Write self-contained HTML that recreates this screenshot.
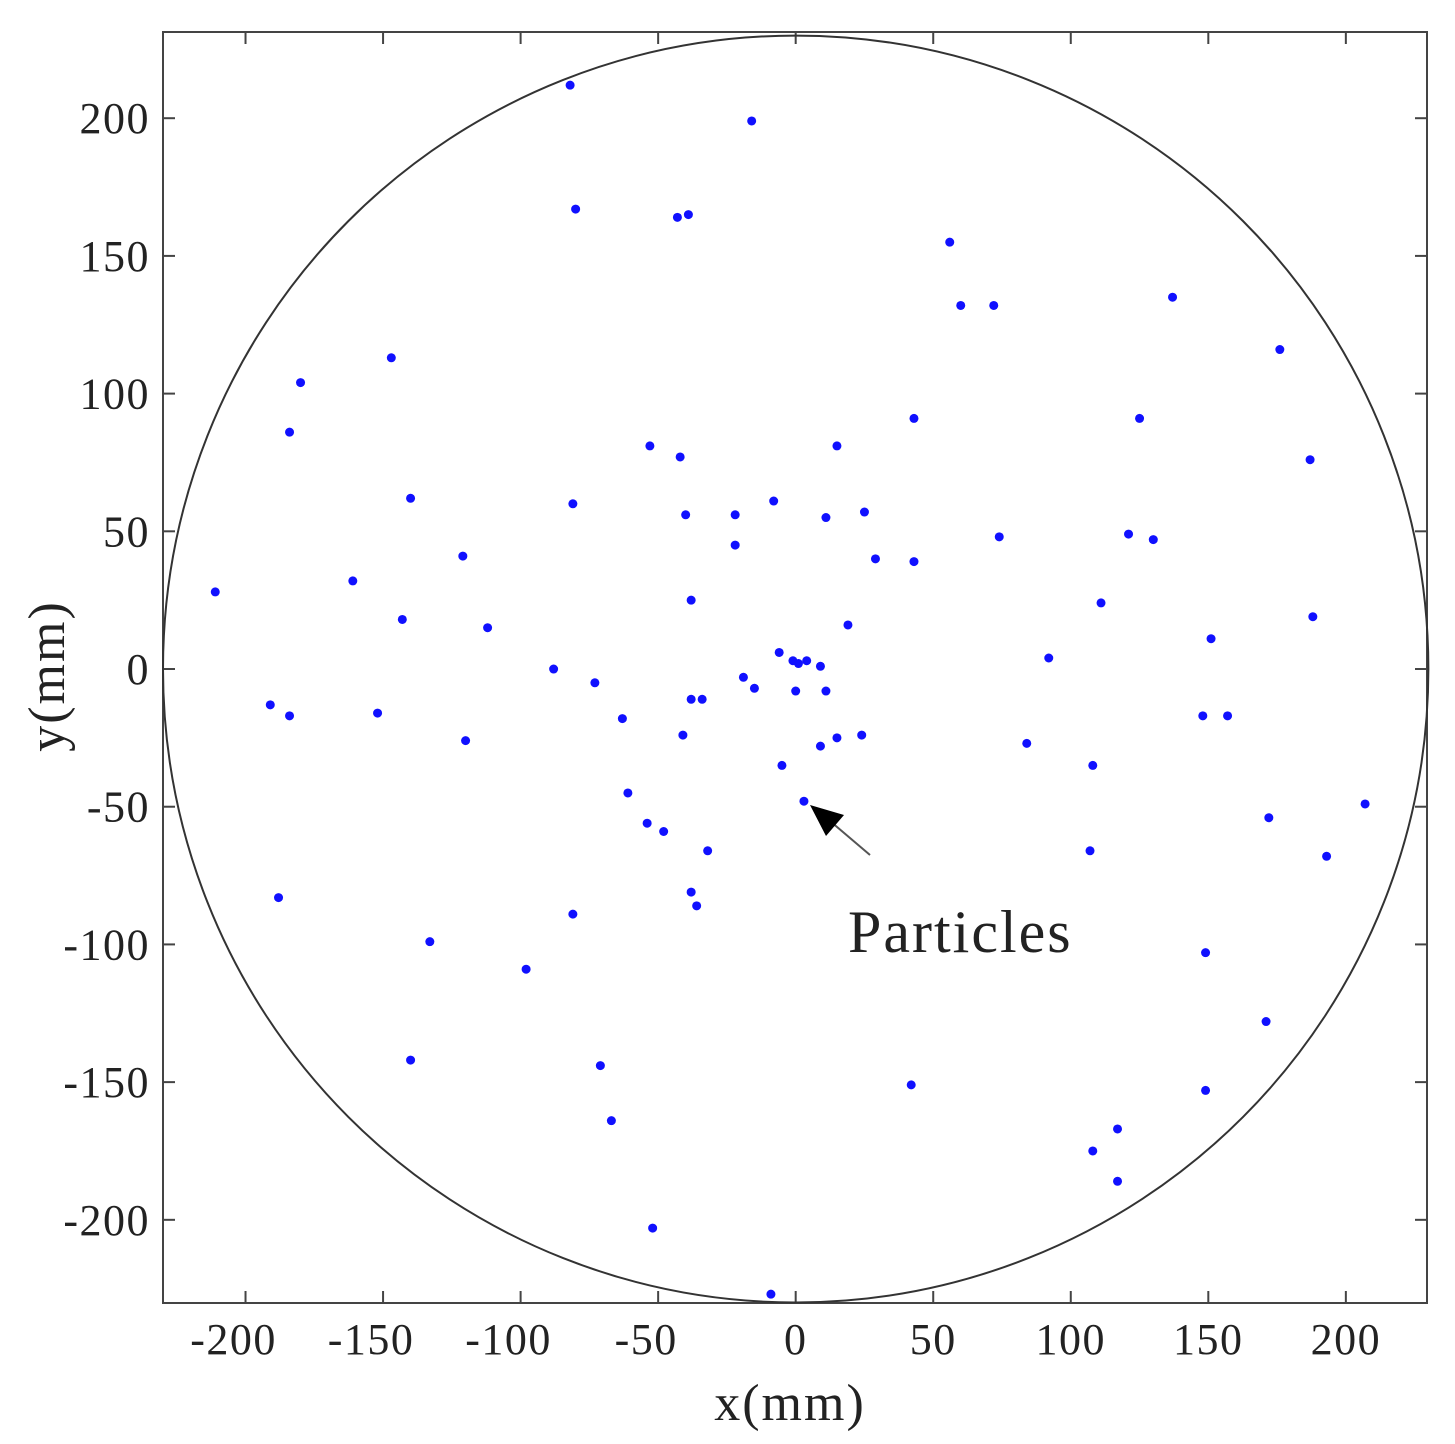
<!DOCTYPE html>
<html><head><meta charset="utf-8"><style>
html,body{margin:0;padding:0;background:#fff}
svg{display:block}
text{font-family:"Liberation Serif",serif;fill:#222}
</style></head><body>
<svg id="chart" width="1455" height="1444" viewBox="0 0 1455 1444" xmlns="http://www.w3.org/2000/svg">
<g id="grid"></g>
<g id="marks"></g>
</svg>
<script>
const xTicks=[-200,-150,-100,-50,0,50,100,150,200];
const yTicks=[-200,-150,-100,-50,0,50,100,150,200];
const xs=[-82,-16,-80,-43,-39,56,60,72,137,176,-147,-180,-184,43,125,-53,-42,15,-140,-81,-40,-22,-8,11,25,-22,74,121,130,187,-121,29,43,-161,-211,-38,111,-143,-112,19,188,151,-6,-1,1,4,9,92,-88,-73,-19,-15,0,11,-38,-34,-191,-184,-152,-63,-41,-120,15,24,9,84,148,157,-5,108,-61,3,207,-54,-48,172,-32,107,193,-188,-38,-36,-81,-133,149,-98,171,-140,-71,42,149,-67,117,108,117,-52,-9];
const ys=[212,199,167,164,165,155,132,132,135,116,113,104,86,91,91,81,77,81,62,60,56,56,61,55,57,45,48,49,47,76,41,40,39,32,28,25,24,18,15,16,19,11,6,3,2,3,1,4,0,-5,-3,-7,-8,-8,-11,-11,-13,-17,-16,-18,-24,-26,-25,-24,-28,-27,-17,-17,-35,-35,-45,-48,-49,-56,-59,-54,-66,-66,-68,-83,-81,-86,-89,-99,-103,-109,-128,-142,-144,-151,-153,-164,-167,-175,-186,-203,-227];
const circleR=[230];
const NS="http://www.w3.org/2000/svg";
const L=163,R=1427,T=32,B=1303;
const X0=-230,X1=229.5,Y0=-230.2,Y1=231.3;
const sx=v=>L+(v-X0)/(X1-X0)*(R-L);
const sy=v=>B-(v-Y0)/(Y1-Y0)*(B-T);
function mk(tag,attrs,parent){const e=document.createElementNS(NS,tag);for(const k in attrs)e.setAttribute(k,attrs[k]);parent.appendChild(e);return e;}
const g=document.getElementById('grid'),m=document.getElementById('marks');
let fr=mk('rect',{x:L,y:T,width:R-L,height:B-T,fill:'none',stroke:'#444','stroke-width':2},g);


xTicks.forEach(v=>{
  const x=sx(v);
  let t1=mk('line',{x1:x,x2:x,y1:B,y2:B-12,stroke:'#444','stroke-width':2},g);
  
  
  let t2=mk('line',{x1:x,x2:x,y1:T,y2:T+12,stroke:'#444','stroke-width':2},g);
  
  
  let tx=mk('text',{x:x-(v<0?12:0),y:1354,'text-anchor':'middle','font-size':44,'letter-spacing':1.5},g);
  tx.textContent=v;
  
  
});
yTicks.forEach(v=>{
  const y=sy(v);
  let t1=mk('line',{x1:L,x2:L+12,y1:y,y2:y,stroke:'#444','stroke-width':2},g);
  
  
  let t2=mk('line',{x1:R,x2:R-12,y1:y,y2:y,stroke:'#444','stroke-width':2},g);
  
  
  let tx=mk('text',{x:150,y:y+15,'text-anchor':'end','font-size':44,'letter-spacing':1.5},g);
  tx.textContent=v;
  
  
});
let xt=mk('text',{x:790,y:1420,'text-anchor':'middle','font-size':52,'letter-spacing':2},g);
xt.textContent='x(mm)';


let yt=mk('text',{x:0,y:0,'text-anchor':'middle','font-size':52,'letter-spacing':2,transform:'translate(64,676) rotate(-90)'},g);
yt.textContent='y(mm)';


let c=mk('ellipse',{cx:sx(0),cy:sy(0),rx:sx(circleR[0])-sx(0),ry:sy(0)-sy(circleR[0]),fill:'none',stroke:'#333','stroke-width':2},m);


xs.forEach((v,i)=>{
  let p=mk('circle',{cx:sx(v),cy:sy(ys[i]),r:4.5,fill:'#1010ff'},m);
  
  
});
let al=mk('line',{x1:870,y1:855,x2:830,y2:821,stroke:'#555','stroke-width':2},m);


let ah=mk('polygon',{points:'810,805 844,815 826,836',fill:'#000'},m);


let at=mk('text',{x:848,y:952,'font-size':60,'letter-spacing':2,fill:'#000'},m);
at.textContent='Particles';


</script>
</body></html>
